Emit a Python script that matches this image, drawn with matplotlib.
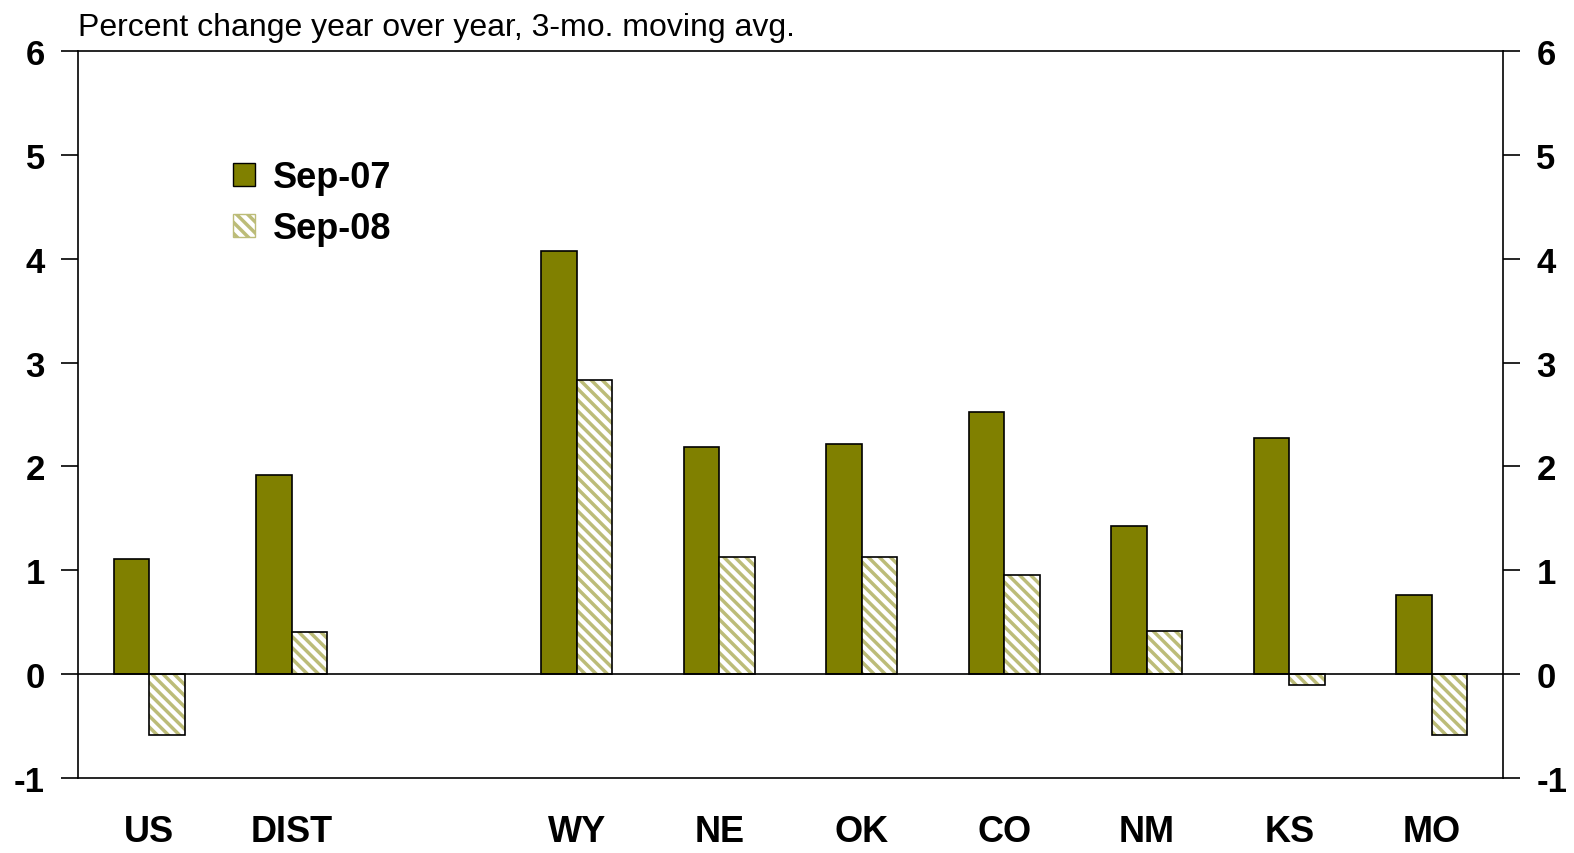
import numpy as np
import matplotlib
matplotlib.use("Agg")
import matplotlib.pyplot as plt
from matplotlib.patches import Patch

plt.rcParams['font.family'] = ['Liberation Sans', 'DejaVu Sans']
plt.rcParams['hatch.linewidth'] = 2.5

categorias = ['US', 'DIST', '', 'WY', 'NE', 'OK', 'CO', 'NM', 'KS', 'MO']
sep07 = [1.11, 1.92, np.nan, 4.07, 2.19, 2.22, 2.52, 1.43, 2.27, 0.76]
sep08 = [-0.59, 0.41, np.nan, 2.83, 1.13, 1.13, 0.95, 0.42, -0.10, -0.59]
etiquetas_y = [-1, 0, 1, 2, 3, 4, 5, 6]

oliva = '#808000'
oliva_claro = '#bcbc78'

fig = plt.figure(figsize=(15.74, 8.54), dpi=100)
ax = fig.add_axes([0.0496, 0.0878, 0.9053, 0.8513])

x = np.arange(len(categorias))
ancho = 0.25

ax.bar(x - ancho / 2, sep07, ancho, color=oliva, edgecolor='black', linewidth=1.2, zorder=2)
ax.bar(x + ancho / 2, sep08, ancho, color='white', edgecolor=oliva_claro, linewidth=0,
       hatch='\\\\\\', zorder=2)
ax.bar(x + ancho / 2, sep08, ancho, fill=False, edgecolor='black', linewidth=1.2, zorder=3)

ax.axhline(0, color='black', linewidth=1.2, zorder=4)

ax.set_xlim(-0.5, len(categorias) - 0.5)
ax.set_ylim(-1, 6)
ax.set_yticks(etiquetas_y)
ax.set_yticklabels([str(v) for v in etiquetas_y], fontsize=25, fontweight='bold')
ax.set_xticks(x)
ax.set_xticklabels(categorias, fontsize=26, fontweight='bold')
ax.tick_params(axis='x', length=0, pad=26)
ax.tick_params(axis='y', direction='out', length=12, width=1.2, pad=12,
               left=True, right=True, labelleft=True, labelright=True)

for lado in ax.spines.values():
    lado.set_linewidth(1.2)

ax.text(0.0, 1.012, 'Percent change year over year, 3-mo. moving avg.',
        transform=ax.transAxes, fontsize=23, ha='left', va='bottom')

manejadores = [
    Patch(facecolor=oliva, edgecolor='black', label='Sep-07'),
    Patch(facecolor='white', edgecolor=oliva_claro, hatch='\\\\\\', label='Sep-08'),
]
leg = ax.legend(handles=manejadores, loc='upper left', bbox_to_anchor=(0.086, 0.895),
                frameon=False, prop={'size': 26, 'weight': 'bold'},
                handlelength=0.6, handleheight=0.6, handletextpad=0.5, labelspacing=0.45)

fig.savefig('out.png', dpi=100)
